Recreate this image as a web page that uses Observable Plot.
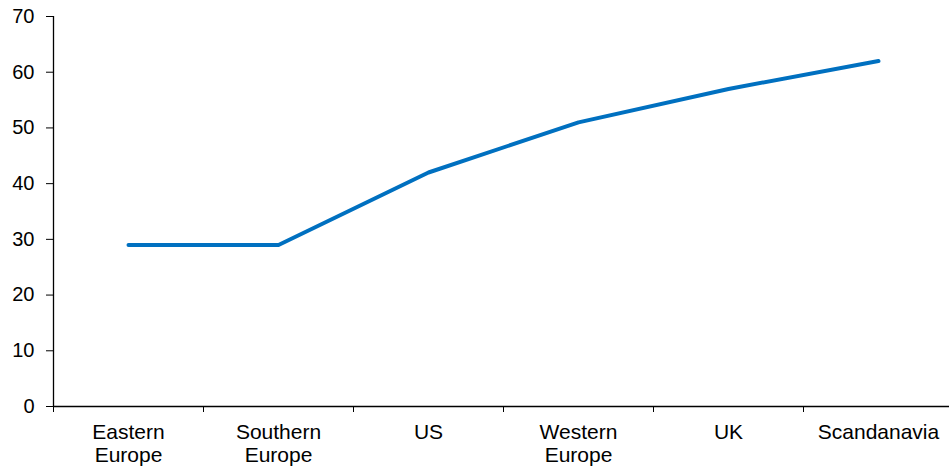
<!DOCTYPE html>
<html><head>
<meta charset="utf-8">
<script src="https://cdn.jsdelivr.net/npm/d3@7"></script>
<script src="https://cdn.jsdelivr.net/npm/@observablehq/plot@0.6"></script>
<style>body{margin:0;background:#fff}</style>
</head><body><div id="chart"></div>
<script>
const categories = ["Eastern\nEurope","Southern\nEurope","US","Western\nEurope","UK","Scandanavia"];
const values = [29,29,42,51,57,62];
const yTicks = [0,10,20,30,40,50,60,70];

const data = categories.map((c,i)=>({pos:i+0.5, value:values[i], label:c}));
const boundaries = d3.range(categories.length+1);

const plot = Plot.plot({
  width:949, height:469, marginLeft:53, marginRight:-4, marginTop:16, marginBottom:63,
  style:{fontFamily:"'Liberation Sans', Arial, sans-serif", fontSize:"20px", color:"#000", background:"#fff"},
  x:{domain:[0,categories.length], label:null},
  y:{domain:[0,70], label:null},
  marks:[
    Plot.axisY(yTicks,{tickSize:7, tickPadding:12, fontSize:20, stroke:"#000"}),
    Plot.ruleX([0],{stroke:"#000", strokeWidth:1.3}),
    Plot.ruleY([0],{stroke:"#000", strokeWidth:1.3}),
    Plot.axisX(boundaries,{tickSize:6, tickFormat:()=>"", stroke:"#000"}),
    Plot.axisX(data.map(d=>d.pos),{tickSize:0, tickFormat:v=>categories[Math.floor(v)], tickPadding:16, fontSize:21, lineHeight:1.1}),
    Plot.line(data,{x:"pos", y:"value", stroke:"#0070C0", strokeWidth:4, strokeLinecap:"round", strokeLinejoin:"round"})
  ]
});
document.getElementById("chart").appendChild(plot);
</script>
</body></html>
